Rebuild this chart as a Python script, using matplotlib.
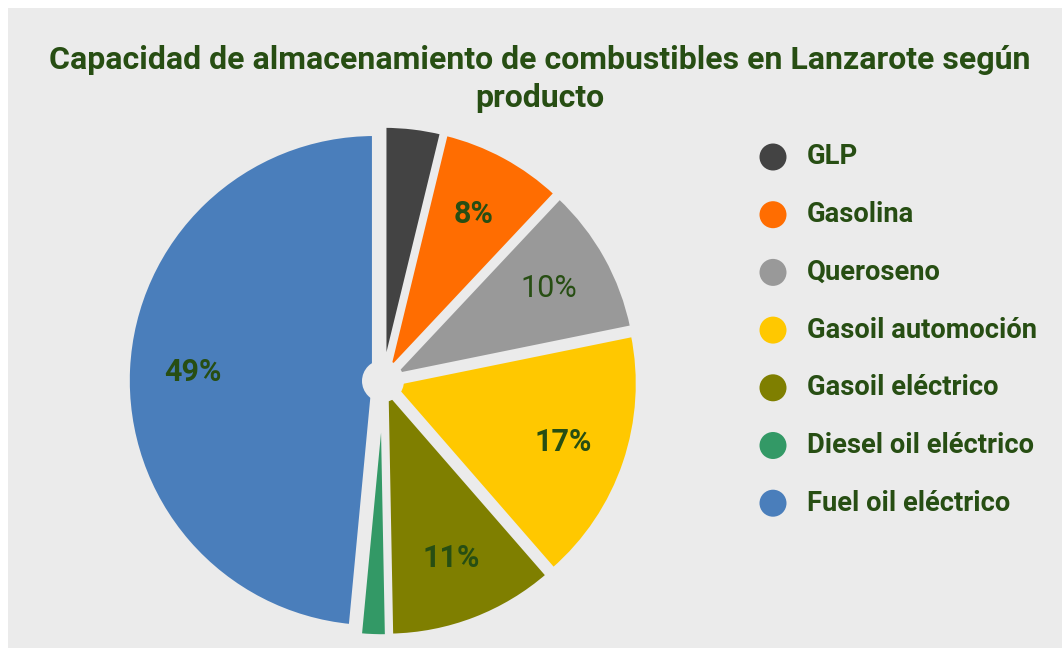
import numpy as np
import matplotlib.pyplot as plt
from matplotlib.patches import Rectangle, Circle

plt.rcParams['font.family'] = ['Roboto', 'DejaVu Sans']

labels = ['GLP', 'Gasolina', 'Queroseno', 'Gasoil automoción',
          'Gasoil eléctrico', 'Diesel oil eléctrico', 'Fuel oil eléctrico']
values = [3.8, 8.2, 9.8, 16.8, 11.1, 1.8, 48.5]
pct_labels = ['', '8%', '10%', '17%', '11%', '', '49%']
colors = ['#434343', '#ff6d01', '#999999', '#ffc800', '#7f7f00', '#339966', '#4a7ebb']

bg = '#ebebeb'
txt = '#274e13'

W, H = 1062, 648
fig = plt.figure(figsize=(W / 100, H / 100), dpi=100, facecolor='white')

# one axes over the whole figure: 1 data unit = R pixels, pie centre at (cx, cy) px
R, cx, cy = 247, 383, 381
ax = fig.add_axes([0, 0, 1, 1])
ax.patch.set_visible(False)


def px(x, y):
    return (x - cx) / R, (cy - y) / R


x0, y0 = px(8, H)
x1, y1 = px(W, 8)
ax.add_patch(Rectangle((x0, y0), x1 - x0, y1 - y0, facecolor=bg, edgecolor='none', zorder=-10))

wedges, _ = ax.pie(values, colors=colors, startangle=90, counterclock=False,
                   explode=[0.035] * len(values),
                   wedgeprops=dict(edgecolor=bg, linewidth=3.5))
ax.add_patch(Circle((0, 0), 0.085, facecolor=bg, edgecolor='none', zorder=5))

# percentage labels along each slice's mid angle
start = 90.0
for v, lab in zip(values, pct_labels):
    ang = np.deg2rad(start - v * 3.6 / 2)
    start -= v * 3.6
    if not lab:
        continue
    ax.text(0.77 * np.cos(ang), 0.77 * np.sin(ang), lab, ha='center', va='center',
            fontsize=22, color=txt,
            fontweight='normal' if lab == '10%' else 'bold', zorder=6)

# title
ax.text(*px(540, 60), 'Capacidad de almacenamiento de combustibles en Lanzarote según',
        ha='center', va='center', fontsize=23, fontweight='bold', color=txt)
ax.text(*px(540, 98), 'producto',
        ha='center', va='center', fontsize=23, fontweight='bold', color=txt)

# legend
for i, (lab, c) in enumerate(zip(labels, colors)):
    yy = 157 + i * 57.7
    ax.add_patch(Circle(px(773, yy), 13.5 / R, facecolor=c, edgecolor='none'))
    ax.text(*px(807, yy), lab, ha='left', va='center', fontsize=19.7,
            fontweight='bold', color=txt)

ax.set_xlim(-cx / R, (W - cx) / R)
ax.set_ylim(-(H - cy) / R, cy / R)
ax.set_aspect('auto')
ax.axis('off')

fig.savefig('out.png', dpi=100, facecolor=fig.get_facecolor())
